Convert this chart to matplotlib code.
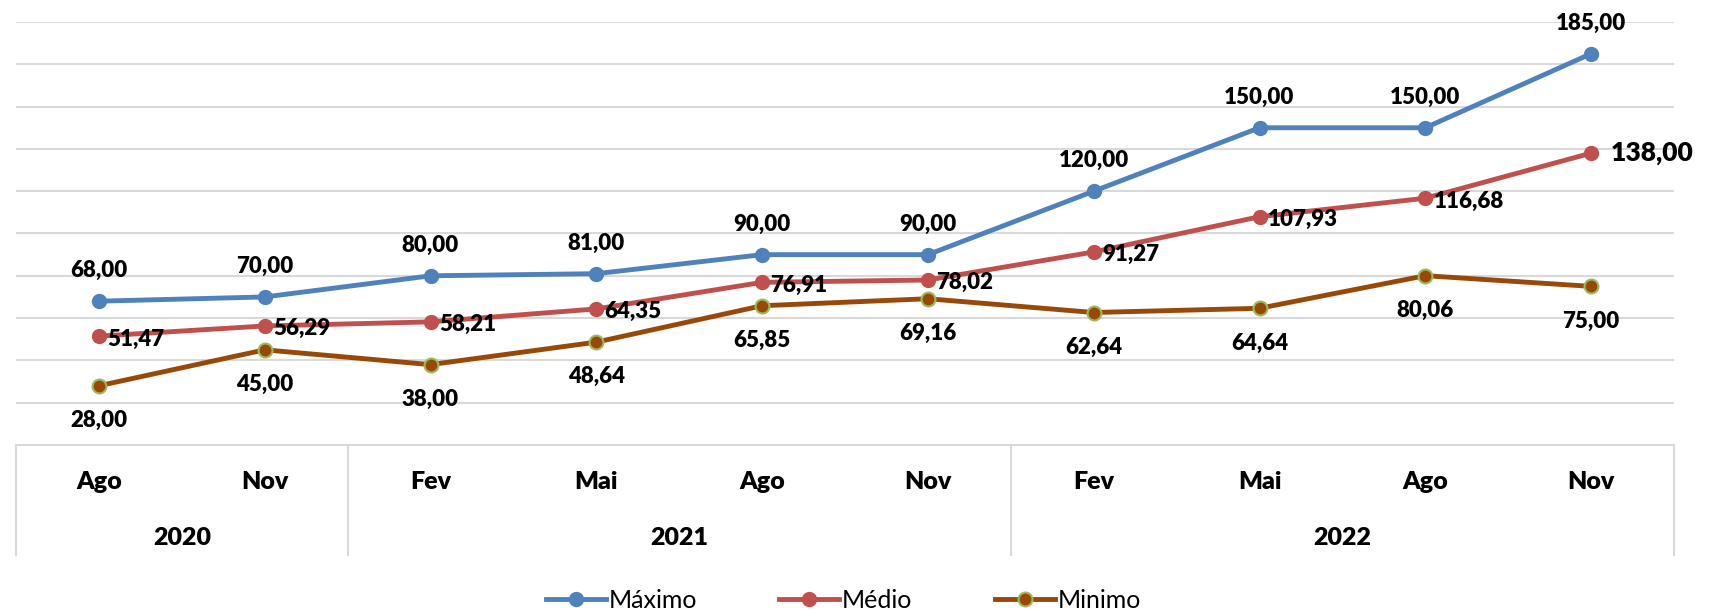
import numpy as np
import matplotlib
matplotlib.use("Agg")
import matplotlib.pyplot as plt
from matplotlib.lines import Line2D

plt.rcParams['font.family'] = ['Lato', 'DejaVu Sans']

meses = ["Ago", "Nov", "Fev", "Mai", "Ago", "Nov", "Fev", "Mai", "Ago", "Nov"]
anos = ["2020", "2021", "2022"]
ano_inicio = [0, 2, 6]
ano_fim = [1, 5, 9]

maximo = [68.00, 70.00, 80.00, 81.00, 90.00, 90.00, 120.00, 150.00, 150.00, 185.00]
medio = [51.47, 56.29, 58.21, 64.35, 76.91, 78.02, 91.27, 107.93, 116.68, 138.00]
minimo = [28.00, 45.00, 38.00, 48.64, 65.85, 69.16, 62.64, 64.64, 80.06, 75.00]

azul = "#4F81BD"
vermelho = "#C0504D"
marrom = "#984807"
verde = "#9BBB59"
cinza = "#D9D9D9"

def fmt(v):
    return ("%.2f" % v).replace(".", ",")

fig = plt.figure(figsize=(17.14, 6.14), dpi=100)
ax = fig.add_axes([16/1714, 1 - 445/614, (1674 - 16)/1714, (445 - 22)/614])

x = np.arange(len(meses))
ax.plot(x, maximo, color=azul, lw=3.5, marker="o", ms=10, zorder=3)
ax.plot(x, medio, color=vermelho, lw=3.5, marker="o", ms=10, zorder=3)
ax.plot(x, minimo, color=marrom, lw=3.5, marker="o", ms=10,
        markeredgecolor=verde, markeredgewidth=1.5, zorder=3)

peso = "heavy"
for i in x:
    ax.annotate(fmt(maximo[i]), (i, maximo[i]), xytext=(0, 22), textcoords="offset points",
                ha="center", va="center", fontsize=16, fontweight=peso)
    if i == len(x) - 1:
        ax.annotate(fmt(medio[i]), (i, medio[i]), xytext=(14, 0), textcoords="offset points",
                    ha="left", va="center", fontsize=19, fontweight=peso)
    else:
        ax.annotate(fmt(medio[i]), (i, medio[i]), xytext=(6, -2), textcoords="offset points",
                    ha="left", va="center", fontsize=16, fontweight=peso)
    ax.annotate(fmt(minimo[i]), (i, minimo[i]), xytext=(0, -25), textcoords="offset points",
                ha="center", va="center", fontsize=16, fontweight=peso)

ax.set_xlim(-0.5, len(meses) - 0.5)
ax.set_ylim(0, 200)
ax.set_yticks(np.arange(20, 201, 20))
ax.set_yticklabels([])
ax.set_xticks([])
ax.tick_params(left=False)
ax.grid(axis="y", color=cinza, lw=1.5)
for s in ax.spines.values():
    s.set_visible(False)

# eixo de categorias em dois niveis
trans = ax.get_xaxis_transform()
ax.plot([-0.5, len(meses) - 0.5], [0, 0], transform=trans, color=cinza, lw=1.5, clip_on=False)
for b in [-0.5] + [f + 0.5 for f in ano_fim]:
    ax.plot([b, b], [0, -0.26], transform=trans, color=cinza, lw=1.5, clip_on=False)
for i, m in enumerate(meses):
    ax.text(i, -0.088, m, transform=trans, ha="center", va="center", fontsize=18, fontweight=peso)
for a, ini, fim in zip(anos, ano_inicio, ano_fim):
    ax.text((ini + fim) / 2, -0.22, a, transform=trans, ha="center", va="center",
            fontsize=18, fontweight=peso)

handles = [
    Line2D([], [], color=azul, lw=3.5, marker="o", ms=10),
    Line2D([], [], color=vermelho, lw=3.5, marker="o", ms=10),
    Line2D([], [], color=marrom, lw=3.5, marker="o", ms=10, markeredgecolor=verde, markeredgewidth=1.5),
]
fig.legend(handles, ["Máximo", "Médio", "Minimo"], loc="center", bbox_to_anchor=(0.492, 0.022),
           ncol=3, frameon=False, fontsize=18, handlelength=2.4, handletextpad=0.1,
           columnspacing=3.3)

fig.savefig("out.png", dpi=100)
